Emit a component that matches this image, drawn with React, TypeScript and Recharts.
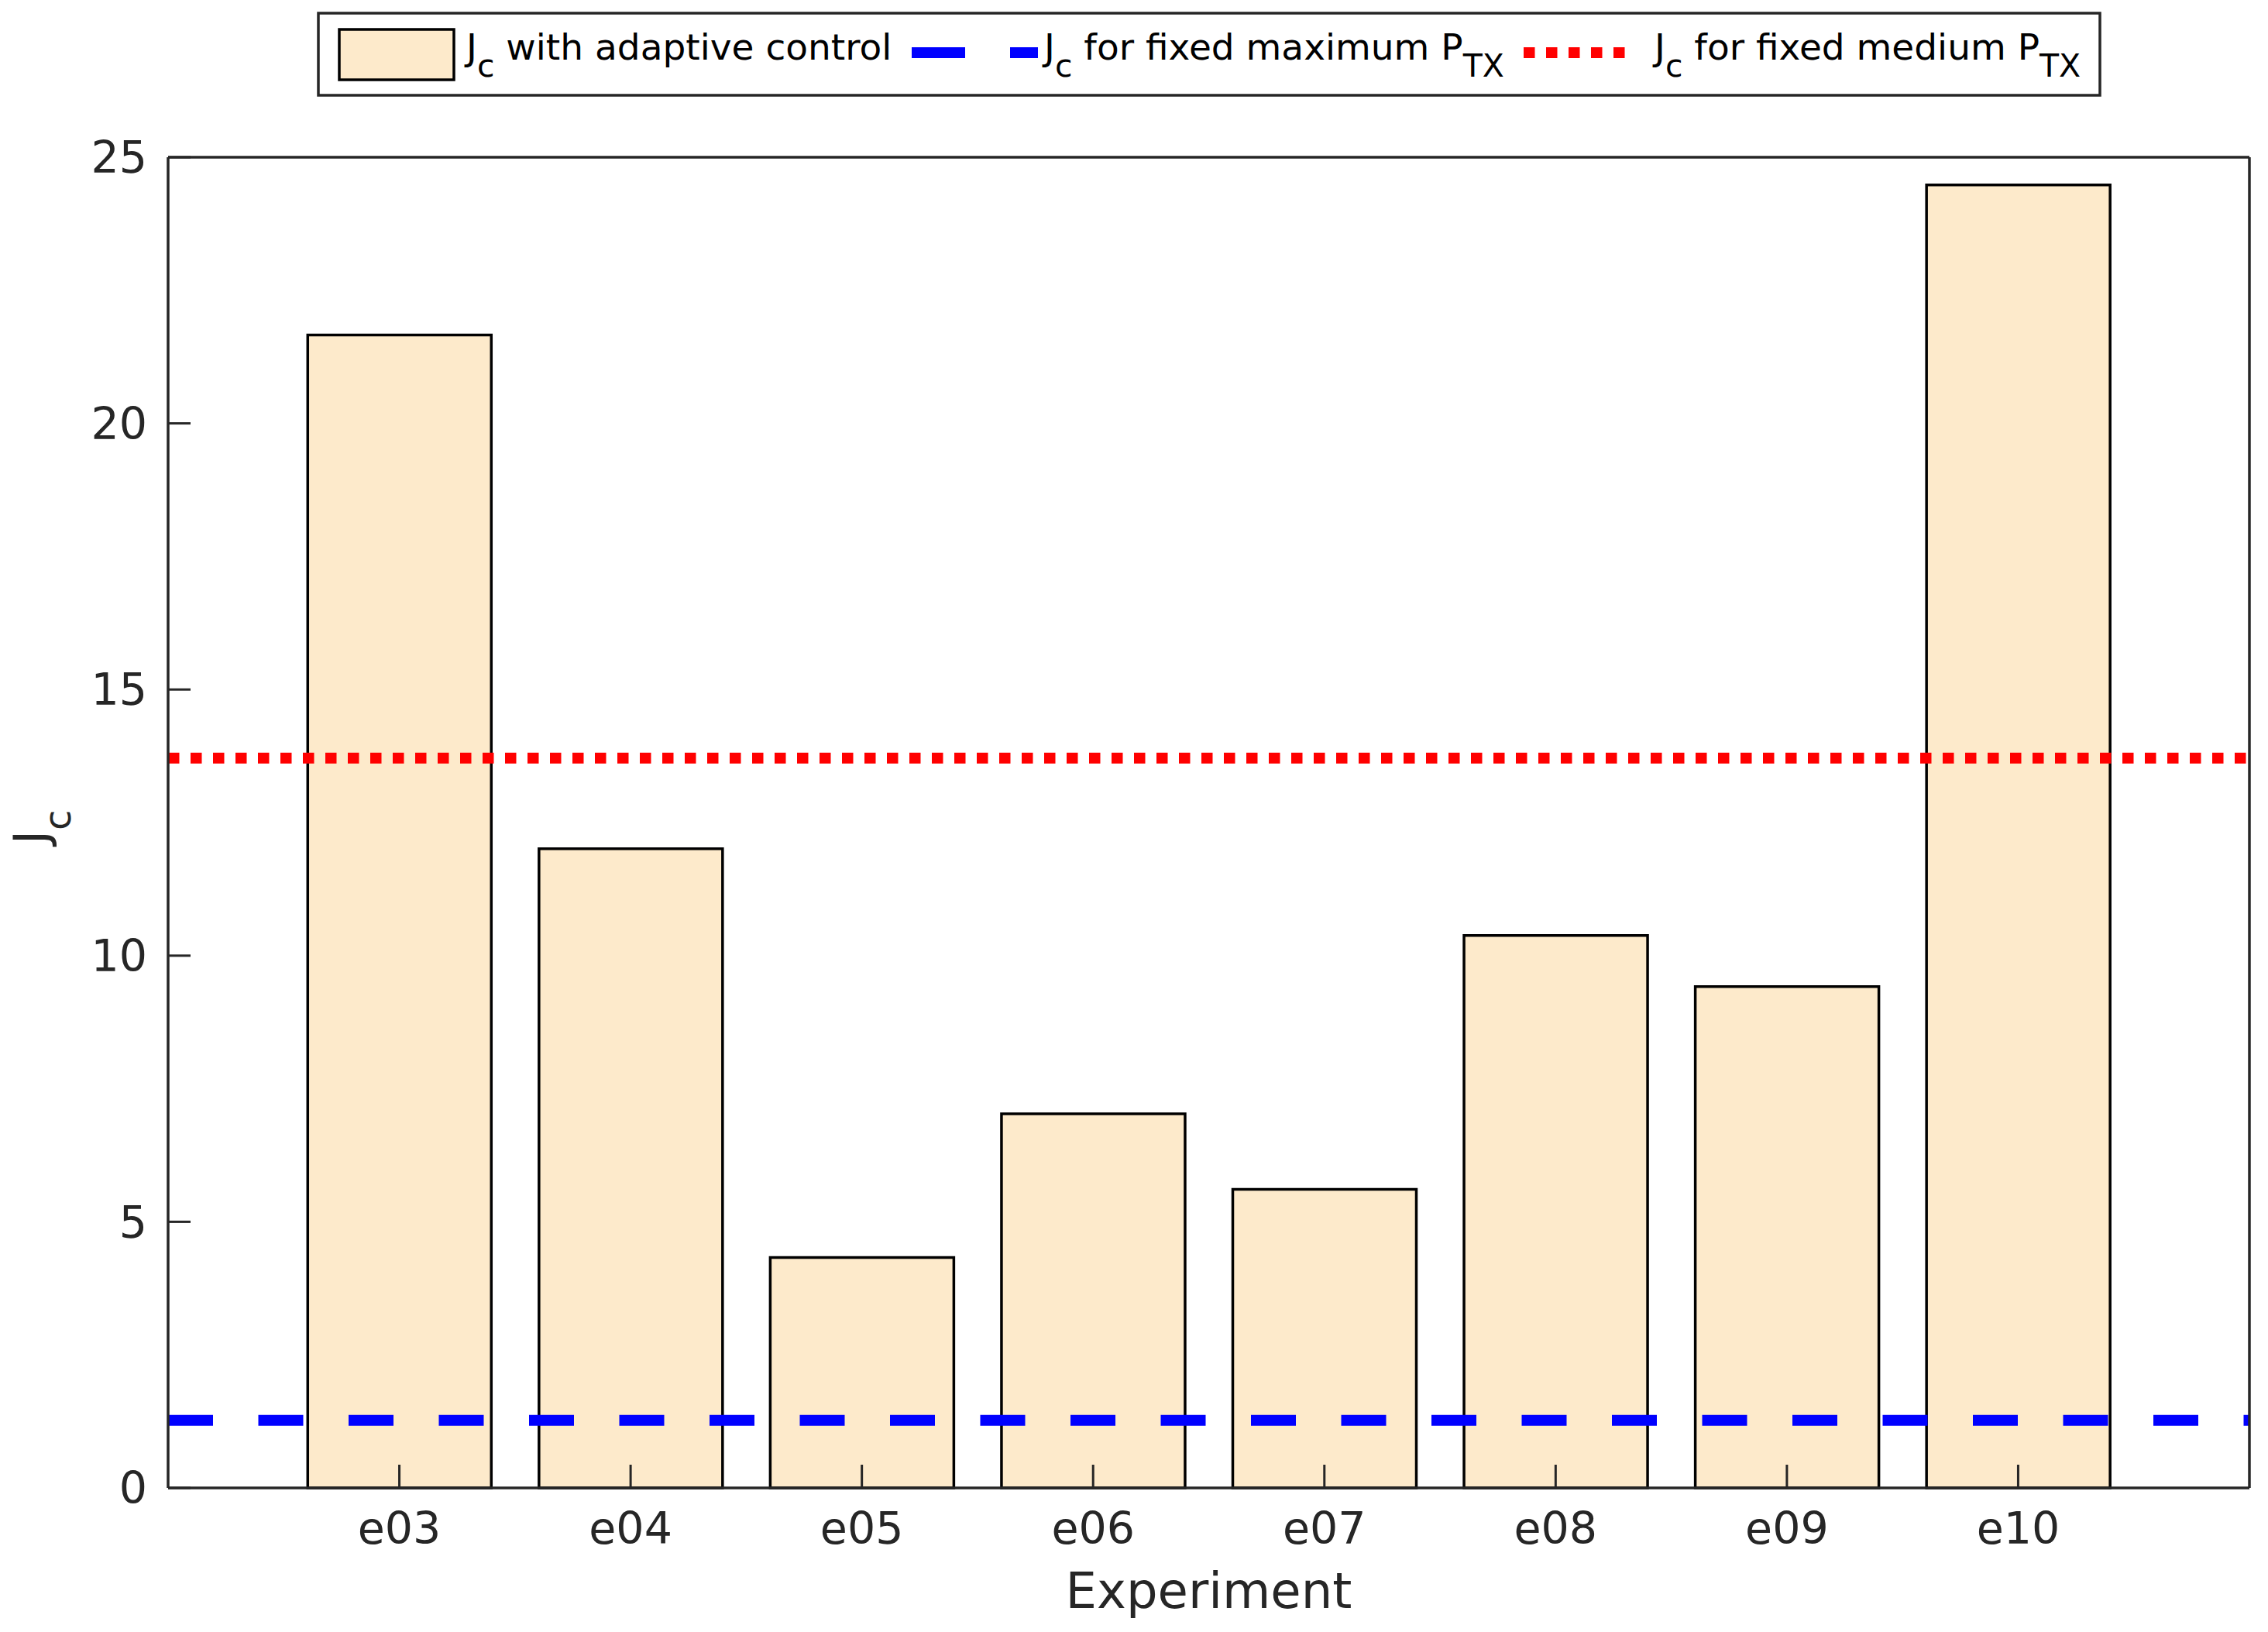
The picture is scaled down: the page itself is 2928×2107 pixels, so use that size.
import { BarChart, Bar, XAxis, YAxis, ReferenceLine, Label } from 'recharts'

const experiments = ['e03', 'e04', 'e05', 'e06', 'e07', 'e08', 'e09', 'e10']
const adaptiveJc = [21.66, 12.01, 4.33, 7.03, 5.61, 10.38, 9.42, 24.48]
const fixedMaxJc = 1.27
const fixedMediumJc = 13.71
const yTicks = [0, 5, 10, 15, 20, 25]

const FONT = '"DejaVu Sans", Verdana, sans-serif'
const AXIS = '#262626'
const BAR_FILL = '#FDEACB'
const W = 2928
const H = 2107

const data = experiments.map((name, i) => ({ name, value: adaptiveJc[i] }))

// plot box: x 217..2904, y 203..1921 -> 9 slots, first/last half-slot as padding
const slot = (W - 217 - 24) / 9
const pad = { left: slot / 2, right: slot / 2 }

const tickStyle = { fontSize: 57, fill: AXIS, fontFamily: FONT }

function renderYLabel() {
  return (
    <text x={60} y={1090} transform="rotate(-90 60 1090)" fontFamily={FONT} fill={AXIS}>
      <tspan fontSize={61}>J</tspan>
      <tspan fontSize={48} dy={31}>c</tspan>
    </text>
  )
}

function LegendBox() {
  const sub = 22
  return (
    <svg width={W} height={140} style={{ position: 'absolute', left: 0, top: 0 }} fontFamily={FONT}>
      <rect x={411} y={17} width={2300} height={106} fill="#fff" stroke={AXIS} strokeWidth={3.5} />
      <rect x={438} y={38} width={148} height={65} fill={BAR_FILL} stroke="#000" strokeWidth={3.5} />
      <text x={602} y={77} fontSize={47} fill="#000">
        <tspan>J</tspan>
        <tspan fontSize={41} dy={sub}>c</tspan>
        <tspan dy={-sub}> with adaptive control</tspan>
      </text>
      <line x1={1177} x2={1340} y1={68} y2={68} stroke="#0000FF" strokeWidth={14} strokeDasharray="69 58" />
      <text x={1348} y={77} fontSize={47} fill="#000">
        <tspan>J</tspan>
        <tspan fontSize={41} dy={sub}>c</tspan>
        <tspan dy={-sub}> for fixed maximum P</tspan>
        <tspan fontSize={41} dy={sub}>TX</tspan>
      </text>
      <line x1={1967} x2={2106} y1={68} y2={68} stroke="#FF0000" strokeWidth={14} strokeDasharray="14.5 14.5" />
      <text x={2136} y={77} fontSize={47} fill="#000">
        <tspan>J</tspan>
        <tspan fontSize={41} dy={sub}>c</tspan>
        <tspan dy={-sub}> for fixed medium P</tspan>
        <tspan fontSize={41} dy={sub}>TX</tspan>
      </text>
    </svg>
  )
}

export default function App() {
  return (
    <div style={{ position: 'relative', width: W, height: H, background: '#fff' }}>
      <style>{'body{margin:0}'}</style>
      <BarChart width={W} height={H} data={data} margin={{ top: 0, right: 0, bottom: 0, left: 0 }}>
        <XAxis
          dataKey="name"
          xAxisId="bottom"
          height={186}
          padding={pad}
          interval={0}
          tick={tickStyle}
          tickSize={-30}
          tickMargin={62}
          tickLine={{ stroke: AXIS, strokeWidth: 3 }}
          axisLine={{ stroke: AXIS, strokeWidth: 3.5 }}
        >
          <Label value="Experiment" position="insideBottom" offset={31} fontSize={64} fill={AXIS} fontFamily={FONT} />
        </XAxis>
        <XAxis
          dataKey="name"
          xAxisId="top"
          orientation="top"
          height={203}
          padding={pad}
          interval={0}
          tick={false}
          tickSize={-30}
          tickLine={{ stroke: AXIS, strokeWidth: 3 }}
          axisLine={{ stroke: AXIS, strokeWidth: 3.5 }}
        />
        <YAxis
          yAxisId="left"
          width={217}
          domain={[0, 25]}
          ticks={yTicks}
          interval={0}
          tick={tickStyle}
          tickSize={-29}
          tickMargin={56}
          tickLine={{ stroke: AXIS, strokeWidth: 3 }}
          axisLine={{ stroke: AXIS, strokeWidth: 3.5 }}
        >
          <Label content={renderYLabel} />
        </YAxis>
        <YAxis
          yAxisId="right"
          orientation="right"
          width={24}
          domain={[0, 25]}
          ticks={yTicks}
          interval={0}
          tick={false}
          tickSize={-29}
          tickLine={{ stroke: AXIS, strokeWidth: 3 }}
          axisLine={{ stroke: AXIS, strokeWidth: 3.5 }}
        />
        <Bar
          dataKey="value"
          xAxisId="bottom"
          yAxisId="left"
          fill={BAR_FILL}
          stroke="#000"
          strokeWidth={3.5}
          barSize={237}
          isAnimationActive={false}
        />
        <ReferenceLine
          y={fixedMediumJc}
          xAxisId="bottom"
          yAxisId="left"
          stroke="#FF0000"
          strokeWidth={14}
          strokeDasharray="14.5 14.5"
        />
        <ReferenceLine
          y={fixedMaxJc}
          xAxisId="bottom"
          yAxisId="left"
          stroke="#0000FF"
          strokeWidth={14}
          strokeDasharray="58 58.5"
        />
      </BarChart>
      <LegendBox />
    </div>
  )
}
